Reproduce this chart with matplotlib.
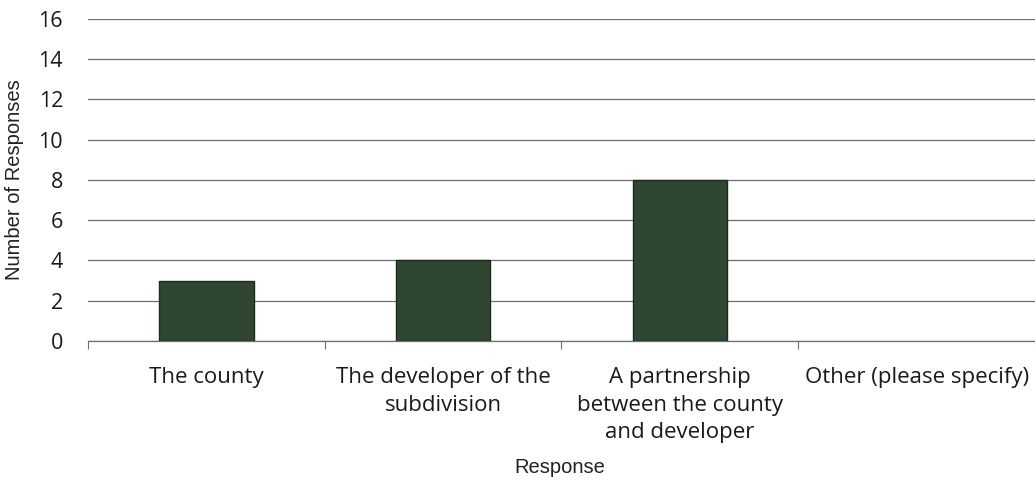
import numpy as np
import matplotlib.pyplot as plt

# data
categories = ['The county', 'The developer of the\nsubdivision',
              'A partnership\nbetween the county\nand developer', 'Other (please specify)']
responses = [3, 4, 8, 0]
yticks = [0, 2, 4, 6, 8, 10, 12, 14, 16]

fig = plt.figure(figsize=(10.35, 4.83), dpi=100)
ax = fig.add_axes([0.085, 0.294, 0.915, 0.667])

x = np.arange(len(categories))
edge_w = [1.0 if v > 0 else 0 for v in responses]
ax.bar(x, responses, width=0.4, color='#2f4730', edgecolor='#1b2a1b', linewidth=edge_w, zorder=3)

ax.set_xlim(-0.5, len(categories) - 0.5)
ax.set_ylim(0, 16)
ax.set_yticks(yticks)
ax.grid(axis='y', color='#6e6e6e', linewidth=0.9, zorder=0)

for s in ['top', 'right', 'left']:
    ax.spines[s].set_visible(False)
ax.spines['bottom'].set_color('#6e6e6e')
ax.spines['bottom'].set_linewidth(0.9)

# category boundary ticks, labels at centers
ax.set_xticks(np.arange(len(categories) + 1) - 0.5)
ax.set_xticklabels([])
ax.tick_params(axis='x', which='major', length=6, color='#6e6e6e', direction='out')
ax.set_xticks(x, minor=True)
ax.set_xticklabels(categories, minor=True, fontsize=16, family='Open Sans', linespacing=1.4,
                   color='#1a1a1a', va='top')
ax.tick_params(axis='x', which='minor', length=0, pad=19)
ax.tick_params(axis='y', length=0, pad=18, labelsize=15.5, labelcolor='#1a1a1a')
for t in ax.get_yticklabels():
    t.set_family('Open Sans')

ax.set_ylabel('Number of Responses', fontsize=14.5, family='Liberation Sans', color='#222222', labelpad=10)
fig.text(0.541, 0.02, 'Response', fontsize=14.5, family='Liberation Sans', color='#222222', ha='center')

fig.savefig('out.png', dpi=100)
